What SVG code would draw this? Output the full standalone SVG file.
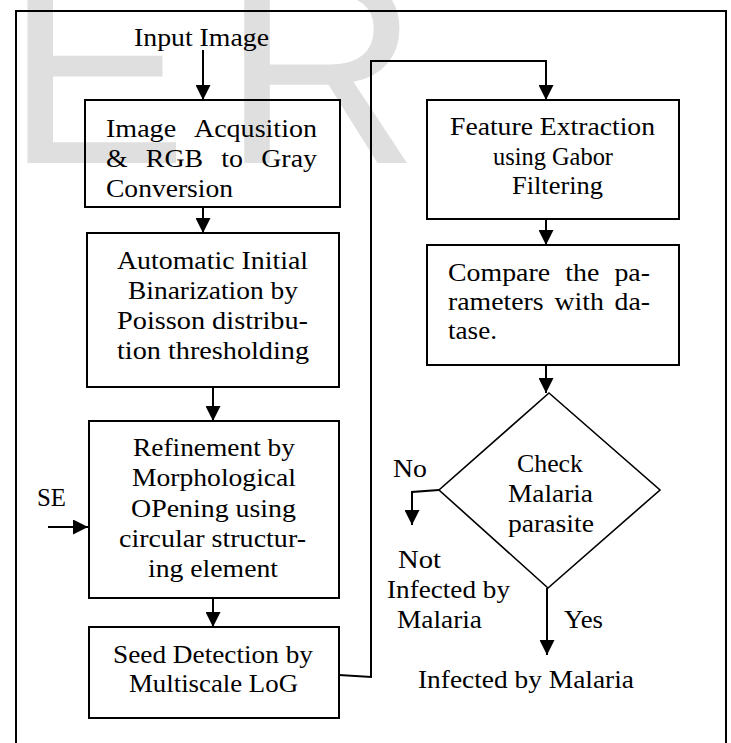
<svg xmlns="http://www.w3.org/2000/svg" width="731" height="743" viewBox="0 0 731 743">
<defs>
<style>
.t{font-family:"Liberation Serif","Times New Roman",serif;font-size:25px;fill:#000}
.box{fill:none;stroke:#000;stroke-width:2}
.ln{fill:none;stroke:#000;stroke-width:2}
.wm{font-family:"Liberation Sans",Arial,sans-serif;font-size:274px;fill:#dfdfdf}
</style>
<marker id="ah" markerUnits="userSpaceOnUse" markerWidth="15" markerHeight="15" viewBox="0 0 14 14" refX="14" refY="7" orient="auto">
<path d="M0,0 L14,7 L0,14 z" fill="#000"/>
</marker>
</defs>
<rect width="731" height="743" fill="#fff"/>
<text class="wm" x="5" y="163">E<tspan dx="34">R</tspan></text>
<path class="ln" d="M16,743 V11 H726 V743"/>

<g id="connectors">
<path class="ln" d="M203,50 V100" marker-end="url(#ah)"/>
<path class="ln" d="M203,207 V233" marker-end="url(#ah)"/>
<path class="ln" d="M213,387 V421" marker-end="url(#ah)"/>
<path class="ln" d="M213,598 V627" marker-end="url(#ah)"/>
<path class="ln" d="M48,527 H88" marker-end="url(#ah)"/>
<path class="ln" d="M339,675 L371,677 V61 H546 V100" marker-end="url(#ah)"/>
<path class="ln" d="M546,219 V245" marker-end="url(#ah)"/>
<path class="ln" d="M546,365 V393" marker-end="url(#ah)"/>
<path class="ln" d="M439,490 L412,492 V525" marker-end="url(#ah)"/>
<path class="ln" d="M547,588 V655" marker-end="url(#ah)"/>
</g>

<g id="input">
<text class="t" x="134" y="46" textLength="135" lengthAdjust="spacingAndGlyphs">Input Image</text>
</g>

<g id="acquisition">
<rect class="box" x="85" y="100" width="255" height="107"/>
<text class="t" x="106" y="137" textLength="211" lengthAdjust="spacingAndGlyphs" word-spacing="11">Image Acqusition</text>
<text class="t" x="106" y="167" textLength="211" lengthAdjust="spacingAndGlyphs" word-spacing="10">&amp; RGB to Gray</text>
<text class="t" x="106" y="197" textLength="127" lengthAdjust="spacingAndGlyphs">Conversion</text>
</g>

<g id="binarization">
<rect class="box" x="87" y="233" width="252" height="154"/>
<text class="t" x="117" y="269" textLength="191" lengthAdjust="spacingAndGlyphs">Automatic Initial</text>
<text class="t" x="128" y="299" textLength="170" lengthAdjust="spacingAndGlyphs">Binarization by</text>
<text class="t" x="117" y="329" textLength="191" lengthAdjust="spacingAndGlyphs">Poisson distribu-</text>
<text class="t" x="117" y="359" textLength="192" lengthAdjust="spacingAndGlyphs">tion thresholding</text>
</g>

<g id="refinement">
<rect class="box" x="89" y="421" width="250" height="177"/>
<text class="t" x="133" y="456" textLength="162" lengthAdjust="spacingAndGlyphs">Refinement by</text>
<text class="t" x="132" y="486" textLength="164" lengthAdjust="spacingAndGlyphs">Morphological</text>
<text class="t" x="131" y="517" textLength="165" lengthAdjust="spacingAndGlyphs">OPening using</text>
<text class="t" x="119" y="547" textLength="187" lengthAdjust="spacingAndGlyphs">circular structur-</text>
<text class="t" x="148" y="577" textLength="130" lengthAdjust="spacingAndGlyphs">ing element</text>
</g>

<g id="se">
<text class="t" x="37" y="506" textLength="29" lengthAdjust="spacingAndGlyphs">SE</text>
</g>

<g id="seed">
<rect class="box" x="89" y="627" width="250" height="91"/>
<text class="t" x="113" y="663" textLength="200" lengthAdjust="spacingAndGlyphs">Seed Detection by</text>
<text class="t" x="129" y="692" textLength="169" lengthAdjust="spacingAndGlyphs">Multiscale LoG</text>
</g>

<g id="feature">
<rect class="box" x="427" y="100" width="252" height="119"/>
<text class="t" x="450" y="135" textLength="205" lengthAdjust="spacingAndGlyphs">Feature Extraction</text>
<text class="t" x="493" y="165" textLength="120" lengthAdjust="spacingAndGlyphs">using Gabor</text>
<text class="t" x="512" y="194" textLength="91" lengthAdjust="spacingAndGlyphs">Filtering</text>
</g>

<g id="compare">
<rect class="box" x="427" y="245" width="252" height="120"/>
<text class="t" x="448" y="281" textLength="202" lengthAdjust="spacingAndGlyphs" word-spacing="7.4">Compare the pa-</text>
<text class="t" x="448" y="310" textLength="202" lengthAdjust="spacingAndGlyphs" word-spacing="3.4">rameters with da-</text>
<text class="t" x="448" y="339" textLength="49" lengthAdjust="spacingAndGlyphs">tase.</text>
</g>

<g id="check">
<path d="M549,393 L660,490 L548,588 L439,490 Z" fill="none" stroke="#000" stroke-width="1.6"/>
<text class="t" x="517" y="472" textLength="66" lengthAdjust="spacingAndGlyphs">Check</text>
<text class="t" x="508" y="502" textLength="85" lengthAdjust="spacingAndGlyphs">Malaria</text>
<text class="t" x="508" y="532" textLength="86" lengthAdjust="spacingAndGlyphs">parasite</text>
</g>

<g id="labels">
<text class="t" x="393" y="477" textLength="34" lengthAdjust="spacingAndGlyphs">No</text>
<text class="t" x="564" y="628" textLength="39" lengthAdjust="spacingAndGlyphs">Yes</text>
</g>

<g id="not-infected">
<text class="t" x="398" y="568" textLength="43" lengthAdjust="spacingAndGlyphs">Not</text>
<text class="t" x="387" y="598" textLength="123" lengthAdjust="spacingAndGlyphs">Infected by</text>
<text class="t" x="397" y="628" textLength="85" lengthAdjust="spacingAndGlyphs">Malaria</text>
</g>

<g id="infected">
<text class="t" x="418" y="688" textLength="216" lengthAdjust="spacingAndGlyphs">Infected by Malaria</text>
</g>
</svg>
